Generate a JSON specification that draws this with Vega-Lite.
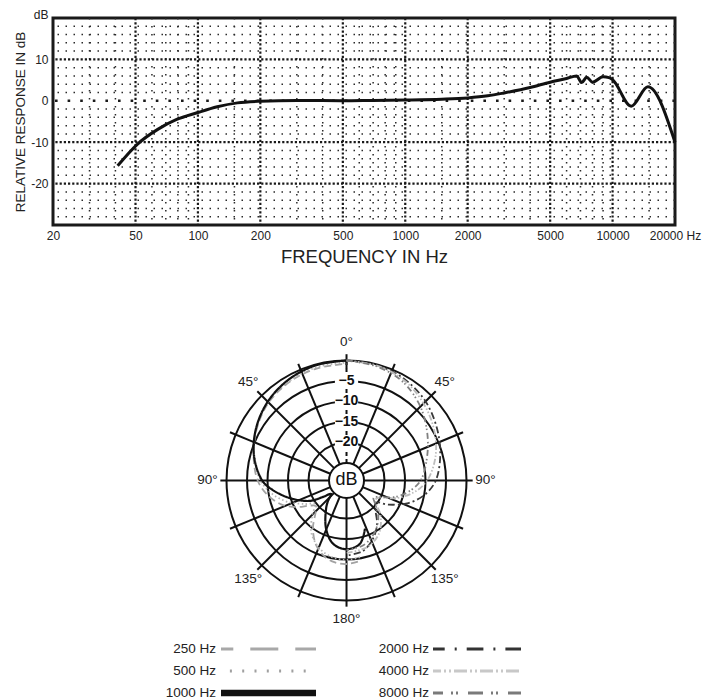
{
  "$schema": "https://vega.github.io/schema/vega-lite/v6.json",
  "padding": {"left": 12, "top": 6, "right": 0, "bottom": 0},
  "spacing": 0,
  "background": "white",
  "resolve": {"scale": {"color": "independent", "strokeDash": "independent"}},
  "config": {
    "font": "Liberation Sans",
    "view": {"stroke": null},
    "axis": {"grid": false, "ticks": false, "domain": false, "labelFont": "Liberation Sans", "labelFontSize": 12, "labelColor": "#222", "titleFont": "Liberation Sans", "titleColor": "#222", "titleFontWeight": "normal", "labelPadding": 5},
    "text": {"font": "Liberation Sans", "color": "#222"}
  },
  "vconcat": [
    {
      "width": 622,
      "height": 207,
      "view": {"stroke": "#1a1a1a", "strokeWidth": 3},
      "layer": [
        {
          "data": {"values": [{"f":30},{"f":40},{"f":60},{"f":70},{"f":80},{"f":90},{"f":150},{"f":300},{"f":400},{"f":600},{"f":700},{"f":800},{"f":900},{"f":1500},{"f":3000},{"f":4000},{"f":6000},{"f":7000},{"f":8000},{"f":9000},{"f":15000}]},
          "mark": {"type": "rule", "color": "#2a2a2a", "strokeWidth": 1.5, "strokeDash": [1.5, 6.5]},
          "encoding": {"x": {"field": "f", "type": "quantitative", "scale": {"type": "log", "domain": [20, 20000], "nice": false}}}
        },
        {
          "data": {"values": [{"f":50},{"f":100},{"f":200},{"f":500},{"f":1000},{"f":2000},{"f":5000},{"f":10000}]},
          "mark": {"type": "rule", "color": "#1a1a1a", "strokeWidth": 2.2, "strokeDash": [2.2, 2]},
          "encoding": {"x": {"field": "f", "type": "quantitative"}}
        },
        {
          "data": {"values": [{"db":-28},{"db":-26},{"db":-24},{"db":-22},{"db":-18},{"db":-16},{"db":-14},{"db":-12},{"db":-8},{"db":-6},{"db":-4},{"db":-2},{"db":2},{"db":4},{"db":6},{"db":8},{"db":12},{"db":14},{"db":16},{"db":18}]},
          "mark": {"type": "rule", "color": "#2a2a2a", "strokeWidth": 1.5, "strokeDash": [1.5, 6.5]},
          "encoding": {"y": {"field": "db", "type": "quantitative", "scale": {"domain": [-30, 20], "nice": false, "zero": false}}}
        },
        {
          "data": {"values": [{"db":-20},{"db":-10},{"db":10}]},
          "mark": {"type": "rule", "color": "#1a1a1a", "strokeWidth": 2.2, "strokeDash": [2.2, 2]},
          "encoding": {"y": {"field": "db", "type": "quantitative"}}
        },
        {
          "data": {"values": [{"db":0}]},
          "mark": {"type": "rule", "color": "#1a1a1a", "strokeWidth": 2.6, "strokeDash": [2.6, 10]},
          "encoding": {"y": {"field": "db", "type": "quantitative"}}
        },
        {
          "data": {"values": [
            {"f":41,"db":-15.7},{"f":51,"db":-10.5},{"f":64,"db":-6.9},{"f":79,"db":-4.5},{"f":99,"db":-2.9},{"f":124,"db":-1.45},{"f":155,"db":-0.5},{"f":200,"db":-0.1},{"f":300,"db":0.1},{"f":500,"db":0.0},{"f":700,"db":0.1},{"f":1000,"db":0.2},{"f":1500,"db":0.4},{"f":2000,"db":0.7},{"f":2500,"db":1.2},{"f":3000,"db":1.9},{"f":4000,"db":3.2},{"f":5000,"db":4.5},{"f":6000,"db":5.4},{"f":6700,"db":6.0},{"f":7100,"db":4.4},{"f":7500,"db":5.7},{"f":8000,"db":4.5},{"f":9000,"db":5.8},{"f":9600,"db":5.6},{"f":10000,"db":5.1},{"f":12300,"db":-1.3},{"f":14800,"db":3.4},{"f":20000,"db":-10.0}
          ]},
          "mark": {"type": "line", "color": "#111", "strokeWidth": 3, "interpolate": "monotone"},
          "encoding": {
            "x": {"field": "f", "type": "quantitative", "axis": {"values": [20,50,100,200,500,1000,2000,5000,10000,20000], "labelExpr": "datum.value == 20000 ? '20000 Hz' : '' + datum.value", "labelFlush": false, "labelOverlap": false, "title": "FREQUENCY IN Hz", "titleFontSize": 18.5, "titlePadding": 6}},
            "y": {"field": "db", "type": "quantitative", "axis": {"values": [-20,-10,0,10,20], "labelExpr": "datum.value == 20 ? 'dB' : '' + datum.value", "labelFlush": false, "labelOverlap": false, "labelBaseline": {"condition": {"test": "datum.value == 20", "value": "alphabetic"}, "value": "middle"}, "title": "RELATIVE RESPONSE IN dB", "titleFontSize": 13.5, "titlePadding": 3}}
          }
        }
      ]
    },
    {
      "width": 622,
      "height": 365,
      "view": {"stroke": null},
      "layer": [
        {
          "data": {"values": [{"db":0},{"db":-5},{"db":-10},{"db":-15},{"db":-20}]},
          "transform": [{"calculate": "datum.db + 29.27", "as": "r"}],
          "mark": {"type": "point", "shape": "circle", "filled": false, "stroke": "#111", "strokeWidth": 2, "opacity": 1},
          "encoding": {
            "x": {"datum": 0, "type": "quantitative", "scale": {"domain": [-71.59, 80.12], "nice": false, "zero": false}, "axis": null},
            "y": {"datum": 0, "type": "quantitative", "scale": {"domain": [-36.95, 52.07], "nice": false, "zero": false}, "axis": null},
            "size": {"field": "r", "type": "quantitative", "legend": null, "scale": {"type": "pow", "exponent": 2, "domain": [0, 29.27], "range": [0, 57600], "zero": true, "nice": false}}
          }
        },
        {
          "data": {"values": [{"a":22.5},{"a":45},{"a":67.5},{"a":90},{"a":112.5},{"a":135},{"a":157.5},{"a":180},{"a":202.5},{"a":225},{"a":247.5},{"a":270},{"a":292.5},{"a":315},{"a":337.5}]},
          "transform": [
            {"calculate": "4.27 * sin(datum.a * PI / 180)", "as": "x1"},
            {"calculate": "4.27 * cos(datum.a * PI / 180)", "as": "y1"},
            {"calculate": "30.77 * sin(datum.a * PI / 180)", "as": "x2"},
            {"calculate": "30.77 * cos(datum.a * PI / 180)", "as": "y2"}
          ],
          "mark": {"type": "rule", "stroke": "#111", "strokeWidth": 2},
          "encoding": {
            "x": {"field": "x1", "type": "quantitative"},
            "y": {"field": "y1", "type": "quantitative"},
            "x2": {"field": "x2"},
            "y2": {"field": "y2"}
          }
        },
        {
          "data": {"values": [{"a":0}]},
          "mark": {"type": "rule", "stroke": "#111", "strokeWidth": 2, "strokeDash": [4, 3]},
          "encoding": {
            "x": {"datum": 0, "type": "quantitative"},
            "y": {"datum": 4.27, "type": "quantitative"},
            "y2": {"datum": 29.27}
          }
        },
        {
          "data": {"values": [{"a":0}]},
          "mark": {"type": "rule", "stroke": "#111", "strokeWidth": 2},
          "encoding": {
            "x": {"datum": 0, "type": "quantitative"},
            "y": {"datum": 27.4, "type": "quantitative"},
            "y2": {"datum": 30.8}
          }
        },
        {
          "data": {"values": [{"db":-5,"label":"−5"},{"db":-10,"label":"−10"},{"db":-15,"label":"−15"},{"db":-20,"label":"−20"}]},
          "transform": [{"calculate": "datum.db + 29.27", "as": "r"}],
          "layer": [
            {
              "mark": {"type": "point", "shape": "M-1.6,-1H1.6V1H-1.6Z", "size": 210, "filled": true, "fill": "white", "opacity": 1, "strokeWidth": 0},
              "encoding": {"x": {"datum": 0, "type": "quantitative"}, "y": {"field": "r", "type": "quantitative"}}
            },
            {
              "mark": {"type": "text", "fontSize": 14, "fontWeight": "bold", "color": "#111", "baseline": "middle", "align": "center"},
              "encoding": {"x": {"datum": 0, "type": "quantitative"}, "y": {"field": "r", "type": "quantitative"}, "text": {"field": "label"}}
            }
          ]
        },
        {
          "data": {"values": [{"db":-25}]},
          "transform": [{"calculate": "datum.db + 29.27", "as": "r"}],
          "mark": {"type": "point", "shape": "circle", "filled": true, "fill": "white", "stroke": "#111", "strokeWidth": 2, "opacity": 1},
          "encoding": {
            "x": {"datum": 0, "type": "quantitative"},
            "y": {"datum": 0, "type": "quantitative"},
            "size": {"field": "r", "type": "quantitative", "legend": null}
          }
        },
        {
          "data": {"values": [{"label":"dB"}]},
          "mark": {"type": "text", "fontSize": 18, "color": "#111", "baseline": "middle", "align": "center"},
          "encoding": {"x": {"datum": 0, "type": "quantitative"}, "y": {"datum": 0, "type": "quantitative"}, "text": {"field": "label"}}
        },
        {
          "data": {"values": [
            {"freq":"250 Hz","a":0,"db":-0.8},{"freq":"250 Hz","a":-15,"db":-1.0},{"freq":"250 Hz","a":-30,"db":-1.5},{"freq":"250 Hz","a":-45,"db":-2.4},{"freq":"250 Hz","a":-60,"db":-4.0},{"freq":"250 Hz","a":-75,"db":-5.8},{"freq":"250 Hz","a":-90,"db":-7.6},{"freq":"250 Hz","a":-100,"db":-9.6},{"freq":"250 Hz","a":-110,"db":-12.3},{"freq":"250 Hz","a":-118,"db":-15.5},{"freq":"250 Hz","a":-124,"db":-18.3},{"freq":"250 Hz","a":-130,"db":-19.6},{"freq":"250 Hz","a":-136,"db":-18.4},{"freq":"250 Hz","a":-145,"db":-15.0},{"freq":"250 Hz","a":-155,"db":-11.8},{"freq":"250 Hz","a":-165,"db":-9.8},{"freq":"250 Hz","a":-172,"db":-9.1},{"freq":"250 Hz","a":-180,"db":-8.9},{"freq":"250 Hz","a":-188,"db":-9.3},
            {"freq":"500 Hz","a":0,"db":-0.5},{"freq":"500 Hz","a":-15,"db":-0.7},{"freq":"500 Hz","a":-30,"db":-1.3},{"freq":"500 Hz","a":-45,"db":-2.2},{"freq":"500 Hz","a":-60,"db":-3.9},{"freq":"500 Hz","a":-75,"db":-6.0},{"freq":"500 Hz","a":-90,"db":-8.3},{"freq":"500 Hz","a":-100,"db":-10.8},{"freq":"500 Hz","a":-110,"db":-14.0},{"freq":"500 Hz","a":-120,"db":-17.8},{"freq":"500 Hz","a":-127,"db":-19.8},{"freq":"500 Hz","a":-135,"db":-17.5},{"freq":"500 Hz","a":-145,"db":-14.2},{"freq":"500 Hz","a":-152,"db":-12.6},{"freq":"500 Hz","a":-160,"db":-11.2},{"freq":"500 Hz","a":-170,"db":-10.2},{"freq":"500 Hz","a":-180,"db":-9.9},{"freq":"500 Hz","a":-190,"db":-10.3},
            {"freq":"1000 Hz","a":0,"db":0},{"freq":"1000 Hz","a":-15,"db":-0.2},{"freq":"1000 Hz","a":-30,"db":-0.9},{"freq":"1000 Hz","a":-45,"db":-2.1},{"freq":"1000 Hz","a":-60,"db":-3.8},{"freq":"1000 Hz","a":-75,"db":-5.9},{"freq":"1000 Hz","a":-90,"db":-8.7},{"freq":"1000 Hz","a":-97,"db":-11.0},{"freq":"1000 Hz","a":-107,"db":-14.7},{"freq":"1000 Hz","a":-119,"db":-19.0},{"freq":"1000 Hz","a":-125,"db":-22.3},{"freq":"1000 Hz","a":-131,"db":-24.3},{"freq":"1000 Hz","a":-138,"db":-22.5},{"freq":"1000 Hz","a":-144,"db":-20.8},{"freq":"1000 Hz","a":-157,"db":-16.5},{"freq":"1000 Hz","a":-168,"db":-13.5},{"freq":"1000 Hz","a":-180,"db":-12.5},{"freq":"1000 Hz","a":-192,"db":-13.5},{"freq":"1000 Hz","a":-201,"db":-16.7},
            {"freq":"2000 Hz","a":0,"db":0},{"freq":"2000 Hz","a":15,"db":-0.2},{"freq":"2000 Hz","a":30,"db":-0.8},{"freq":"2000 Hz","a":45,"db":-2.0},{"freq":"2000 Hz","a":60,"db":-3.8},{"freq":"2000 Hz","a":75,"db":-5.6},{"freq":"2000 Hz","a":90,"db":-7.5},{"freq":"2000 Hz","a":100,"db":-9.8},{"freq":"2000 Hz","a":110,"db":-13.2},{"freq":"2000 Hz","a":120,"db":-17.5},{"freq":"2000 Hz","a":127,"db":-20.3},{"freq":"2000 Hz","a":135,"db":-19.3},{"freq":"2000 Hz","a":145,"db":-16.3},{"freq":"2000 Hz","a":155,"db":-13.8},{"freq":"2000 Hz","a":167,"db":-11.6},{"freq":"2000 Hz","a":180,"db":-11.0},
            {"freq":"4000 Hz","a":0,"db":0},{"freq":"4000 Hz","a":15,"db":-0.3},{"freq":"4000 Hz","a":30,"db":-1.1},{"freq":"4000 Hz","a":45,"db":-2.7},{"freq":"4000 Hz","a":60,"db":-4.6},{"freq":"4000 Hz","a":75,"db":-6.8},{"freq":"4000 Hz","a":90,"db":-9.6},{"freq":"4000 Hz","a":100,"db":-12.6},{"freq":"4000 Hz","a":110,"db":-16.6},{"freq":"4000 Hz","a":118,"db":-20.4},{"freq":"4000 Hz","a":125,"db":-20.8},{"freq":"4000 Hz","a":135,"db":-17.6},{"freq":"4000 Hz","a":148,"db":-14.2},{"freq":"4000 Hz","a":162,"db":-12.3},{"freq":"4000 Hz","a":180,"db":-11.6},
            {"freq":"8000 Hz","a":0,"db":0},{"freq":"8000 Hz","a":15,"db":-0.5},{"freq":"8000 Hz","a":30,"db":-1.6},{"freq":"8000 Hz","a":45,"db":-3.8},{"freq":"8000 Hz","a":60,"db":-6.5},{"freq":"8000 Hz","a":75,"db":-9.0},{"freq":"8000 Hz","a":90,"db":-11.2},{"freq":"8000 Hz","a":100,"db":-13.8},{"freq":"8000 Hz","a":108,"db":-16.5},{"freq":"8000 Hz","a":115,"db":-19.5},{"freq":"8000 Hz","a":122,"db":-21.5},{"freq":"8000 Hz","a":130,"db":-20.0},{"freq":"8000 Hz","a":140,"db":-17.2},{"freq":"8000 Hz","a":152,"db":-14.8},{"freq":"8000 Hz","a":165,"db":-13.0},{"freq":"8000 Hz","a":180,"db":-12.3}
          ]},
          "transform": [
            {"calculate": "(datum.db + 29.27) * sin(datum.a * PI / 180)", "as": "px"},
            {"calculate": "(datum.db + 29.27) * cos(datum.a * PI / 180)", "as": "py"}
          ],
          "mark": {"type": "line", "interpolate": "catmull-rom"},
          "encoding": {
            "x": {"field": "px", "type": "quantitative"},
            "y": {"field": "py", "type": "quantitative"},
            "order": {"field": "a", "type": "quantitative"},
            "color": {"field": "freq", "type": "nominal", "legend": null, "scale": {"domain": ["250 Hz","500 Hz","1000 Hz","2000 Hz","4000 Hz","8000 Hz"], "range": ["#a2a2a2","#b4b4b4","#111111","#3a3a3a","#bdbdbd","#808080"]}},
            "strokeDash": {"field": "freq", "type": "nominal", "legend": null, "scale": {"domain": ["250 Hz","500 Hz","1000 Hz","2000 Hz","4000 Hz","8000 Hz"], "range": [[7,4],[1.5,2.5],[1,0],[7,3,2,3],[6,2,1.5,2,1.5,2],[6,3,1.5,2,1.5,3]]}},
            "strokeWidth": {"condition": {"test": "datum.freq == '1000 Hz'", "value": 2.2}, "value": 1.8}
          }
        },
        {
          "data": {"values": [{"a":0,"label":"0°"},{"a":45,"label":"45°"},{"a":-45,"label":"45°"},{"a":90,"label":"90°"},{"a":-90,"label":"90°"},{"a":135,"label":"135°"},{"a":-135,"label":"135°"},{"a":180,"label":"180°"}]},
          "transform": [
            {"calculate": "33.9 * sin(datum.a * PI / 180)", "as": "px"},
            {"calculate": "33.9 * cos(datum.a * PI / 180)", "as": "py"}
          ],
          "mark": {"type": "text", "fontSize": 13.5, "color": "#222", "baseline": "middle", "align": "center"},
          "encoding": {
            "x": {"field": "px", "type": "quantitative"},
            "y": {"field": "py", "type": "quantitative"},
            "text": {"field": "label"}
          }
        }
      ]
    },
    {
      "width": 622,
      "height": 70,
      "view": {"stroke": null},
      "data": {"values": [
        {"freq":"250 Hz","col":1,"line":1},{"freq":"500 Hz","col":1,"line":2},{"freq":"1000 Hz","col":1,"line":3},
        {"freq":"2000 Hz","col":2,"line":1},{"freq":"4000 Hz","col":2,"line":2},{"freq":"8000 Hz","col":2,"line":3}
      ]},
      "layer": [
        {
          "mark": {"type": "text", "align": "right", "baseline": "middle", "fontSize": 13.5, "color": "#222"},
          "encoding": {
            "x": {"field": "col", "type": "quantitative", "scale": {"domain": [0.23474, 3.15493], "nice": false, "zero": false}, "axis": null},
            "y": {"field": "line", "type": "quantitative", "scale": {"domain": [0.22727, 3.40909], "nice": false, "zero": false, "reverse": true}, "axis": null},
            "text": {"field": "freq"}
          }
        },
        {
          "transform": [{"filter": "datum.col == 1"}],
          "mark": {"type": "rule", "xOffset": 5, "x2Offset": 100, "strokeDashOffset": 15.7},
          "encoding": {
            "x": {"field": "col", "type": "quantitative"},
            "x2": {"field": "col"},
            "y": {"field": "line", "type": "quantitative"},
            "color": {"field": "freq", "type": "nominal", "legend": null, "scale": {"domain": ["250 Hz","500 Hz","1000 Hz","2000 Hz","4000 Hz","8000 Hz"], "range": ["#a8a8a8","#a0a0a0","#111111","#333333","#c8c8c8","#7a7a7a"]}},
            "strokeDash": {"field": "freq", "type": "nominal", "legend": null, "scale": {"domain": ["250 Hz","500 Hz","1000 Hz","2000 Hz","4000 Hz","8000 Hz"], "range": [[28,17],[2,10.3],[1,0],[16.7,10,2,10],[13,3,2,3,2,3],[15,8,2,3,2,10]]}},
            "strokeWidth": {"condition": {"test": "datum.freq == '1000 Hz'", "value": 6.5}, "value": 3.2}
          }
        },
        {
          "transform": [{"filter": "datum.col == 2"}],
          "mark": {"type": "rule", "xOffset": 4, "x2Offset": 92, "strokeDashOffset": 5},
          "encoding": {
            "x": {"field": "col", "type": "quantitative"},
            "x2": {"field": "col"},
            "y": {"field": "line", "type": "quantitative"},
            "color": {"field": "freq", "type": "nominal", "legend": null},
            "strokeDash": {"field": "freq", "type": "nominal", "legend": null},
            "strokeWidth": {"value": 3.2}
          }
        }
      ]
    }
  ]
}
